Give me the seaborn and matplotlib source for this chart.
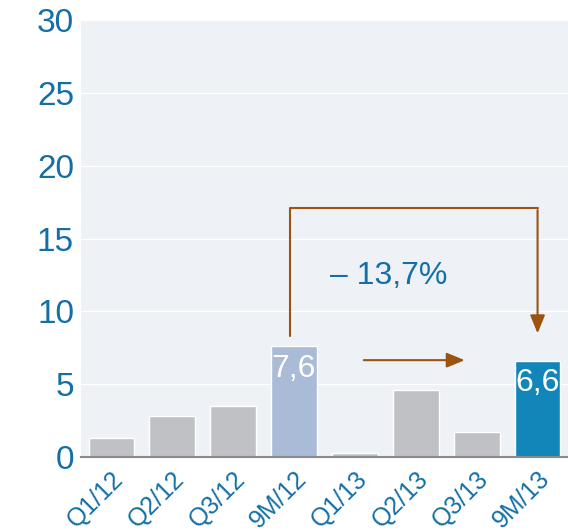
import matplotlib
matplotlib.use("Agg")
import matplotlib.pyplot as plt
import seaborn as sns
import pandas as pd

categories = ["Q1/12", "Q2/12", "Q3/12", "9M/12", "Q1/13", "Q2/13", "Q3/13", "9M/13"]
values = [1.3, 2.8, 3.5, 7.6, 0.3, 4.6, 1.7, 6.6]
colors = ["#c0c1c4", "#c0c1c4", "#c0c1c4", "#a9bbd6",
          "#c0c1c4", "#c0c1c4", "#c0c1c4", "#1386b9"]
labeled = {"9M/12": "7,6", "9M/13": "6,6"}
change_text = "\u2013 13,7%"

blue = "#136fa6"
brown = "#9a5410"

sns.set_style("whitegrid", {"axes.facecolor": "#eef2f6", "grid.color": "white"})
plt.rcParams["font.family"] = ["Liberation Sans", "DejaVu Sans"]

df = pd.DataFrame({"cat": categories, "val": values})

fig = plt.figure(figsize=(5.68, 5.32), dpi=100)
ax = fig.add_axes([0.1426, 0.141, 0.8574, 0.821])

sns.barplot(data=df, x="cat", y="val", hue="cat", palette=colors,
            legend=False, width=0.75, saturation=1, ax=ax)

ax.set_ylim(0, 30)
ax.set_xlim(-0.5, 7.5)
ax.set_yticks(range(0, 31, 5))
ax.set_xlabel("")
ax.set_ylabel("")
ax.grid(axis="x", visible=False)
ax.grid(axis="y", color="white", linewidth=1)
for s in ["top", "right", "left"]:
    ax.spines[s].set_visible(False)
ax.spines["bottom"].set_color("#8a8a8a")
ax.spines["bottom"].set_linewidth(1.5)

ax.tick_params(axis="y", length=0, labelsize=24, labelcolor=blue, pad=5)
ax.set_xticks(range(len(categories)))
ax.set_xticklabels(categories, rotation=45, ha="right", rotation_mode="anchor",
                   fontsize=18, color=blue)
ax.tick_params(axis="x", which="major", length=0, pad=7)
ax.set_xticks([i - 0.5 for i in range(len(categories) + 1)], minor=True)
ax.tick_params(axis="x", which="minor", length=7, width=1.5, color="#8a8a8a")

for i, c in enumerate(categories):
    if c in labeled:
        ax.text(i, values[i] - 0.5, labeled[c], ha="center", va="top",
                color="white", fontsize=23)

# bracket arrow from 9M/12 to 9M/13
ax.plot([2.93, 2.93, 7.0], [8.3, 17.1, 17.1], color=brown, lw=1.5)
ax.annotate("", xy=(7.0, 8.3), xytext=(7.0, 17.15),
            arrowprops=dict(arrowstyle="-|>,head_width=0.45,head_length=1.1",
                            color=brown, lw=1.5))
ax.annotate("", xy=(5.85, 6.65), xytext=(4.1, 6.65),
            arrowprops=dict(arrowstyle="-|>,head_width=0.45,head_length=1.1",
                            color=brown, lw=1.5))
ax.text(4.55, 12.4, change_text, ha="center", va="center", color=blue, fontsize=23)

fig.savefig("out.png", dpi=100)
